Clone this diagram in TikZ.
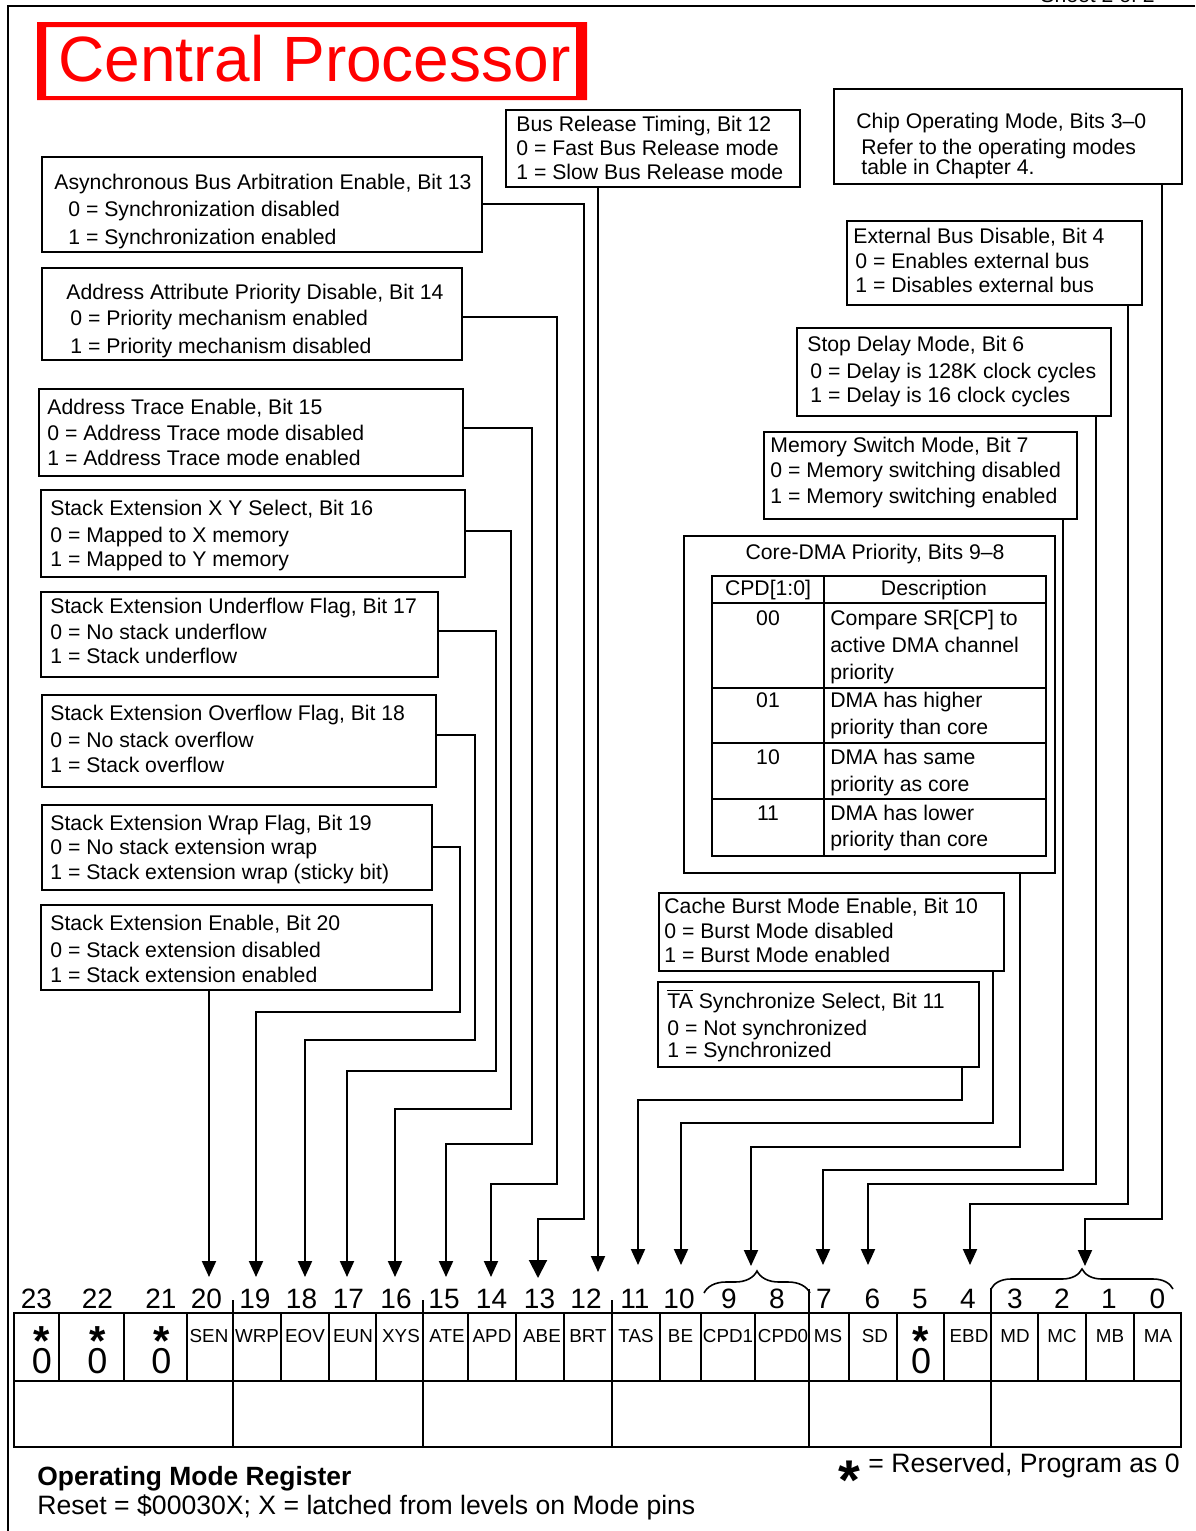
\documentclass[tikz,border=0pt]{standalone}
\usepackage{fontspec}
\setmainfont{Liberation Sans}
\usetikzlibrary{arrows.meta,fit,decorations.pathreplacing}
\newcommand\resbit{{\fontsize{18}{18}\selectfont\makebox[0pt][l]{\makebox[\fontcharwd\font`0][c]{\raisebox{9pt}[0pt][0pt]{\fontsize{21}{21}\bfseries\selectfont *}}}0}}
\begin{document}
\begin{tikzpicture}[x=0.5pt,y=-0.5pt,
  box/.style={draw,line width=1pt,inner sep=0pt,rectangle},
  txt/.style={inner sep=0pt,anchor=base west,font=\fontsize{10.6}{12.7}\selectfont},
  ctxt/.style={inner sep=0pt,anchor=base,font=\fontsize{10.6}{12.7}\selectfont},
  conn/.style={line width=1pt,-{Triangle[width=7pt,length=8pt]}},
  bigconn/.style={line width=1pt,-{Triangle[width=9pt,length=9pt]}},
  reg/.style={line width=1.1pt},
  bitlbl/.style={inner sep=0pt,anchor=base,font=\fontsize{14}{16}\selectfont},
  fld/.style={inner sep=0pt,anchor=base,font=\fontsize{9.4}{11}\selectfont},
  resv/.style={inner sep=0pt,anchor=base},
  brc/.style={line width=0.8pt,decorate},
]
\useasboundingbox (0,0) rectangle (1195,1531);

% frame and sheet note
\draw[line width=1pt] (8,1531) -- (8,6) -- (1195,6);
\node[txt] (sheet) at (1040,3) {Sheet 2 of 2};

% title
\fill[red,even odd rule] (37,22) rectangle (587,100) (46,27) rectangle (576,96);
\node[inner sep=0pt,anchor=base west,text=red,font=\fontsize{32}{38}\selectfont] (title) at (58,81) {Central Processor};

% ---------- boxes ----------
\node[box,fit={(506,110) (800,187)}] (brt) {};
\node[txt] (brt1) at (516,131) {Bus Release Timing, Bit 12};
\node[txt] (brt2) at (516,155) {0 = Fast Bus Release mode};
\node[txt] (brt3) at (516,179) {1 = Slow Bus Release mode};

\node[box,fit={(834,89) (1182,184)}] (cm) {};
\node[txt] (cm1) at (856,128) {Chip Operating Mode, Bits 3–0};
\node[txt] (cm2) at (861,154) {Refer to the operating modes};
\node[txt] (cm3) at (861,174) {table in Chapter 4.};

\node[box,fit={(42,157) (482,252)}] (aba) {};
\node[txt] (aba1) at (54,189) {Asynchronous Bus Arbitration Enable, Bit 13};
\node[txt] (aba2) at (68,216) {0 = Synchronization disabled};
\node[txt] (aba3) at (68,244) {1 = Synchronization enabled};

\node[box,fit={(42,268) (462,360)}] (apd) {};
\node[txt] (apd1) at (66,299) {Address Attribute Priority Disable, Bit 14};
\node[txt] (apd2) at (70,325) {0 = Priority mechanism enabled};
\node[txt] (apd3) at (70,353) {1 = Priority mechanism disabled};

\node[box,fit={(39,389) (463,476)}] (ate) {};
\node[txt] (ate1) at (47,414) {Address Trace Enable, Bit 15};
\node[txt] (ate2) at (47,440) {0 = Address Trace mode disabled};
\node[txt] (ate3) at (47,465) {1 = Address Trace mode enabled};

\node[box,fit={(41,490) (465,577)}] (xys) {};
\node[txt] (xys1) at (50,515) {Stack Extension X Y Select, Bit 16};
\node[txt] (xys2) at (50,542) {0 = Mapped to X memory};
\node[txt] (xys3) at (50,566) {1 = Mapped to Y memory};

\node[box,fit={(41,592) (438,677)}] (eun) {};
\node[txt] (eun1) at (50,613) {Stack Extension Underflow Flag, Bit 17};
\node[txt] (eun2) at (50,639) {0 = No stack underflow};
\node[txt] (eun3) at (50,663) {1 = Stack underflow};

\node[box,fit={(42,695) (436,787)}] (eov) {};
\node[txt] (eov1) at (50,720) {Stack Extension Overflow Flag, Bit 18};
\node[txt] (eov2) at (50,747) {0 = No stack overflow};
\node[txt] (eov3) at (50,772) {1 = Stack overflow};

\node[box,fit={(42,805) (432,890)}] (wrp) {};
\node[txt] (wrp1) at (50,830) {Stack Extension Wrap Flag, Bit 19};
\node[txt] (wrp2) at (50,854) {0 = No stack extension wrap};
\node[txt] (wrp3) at (50,879) {1 = Stack extension wrap (sticky bit)};

\node[box,fit={(41,905) (432,990)}] (sen) {};
\node[txt] (sen1) at (50,930) {Stack Extension Enable, Bit 20};
\node[txt] (sen2) at (50,957) {0 = Stack extension disabled};
\node[txt] (sen3) at (50,982) {1 = Stack extension enabled};

\node[box,fit={(847,221) (1142,305)}] (ebd) {};
\node[txt] (ebd1) at (853,243) {External Bus Disable, Bit 4};
\node[txt] (ebd2) at (855,268) {0 = Enables external bus};
\node[txt] (ebd3) at (855,292) {1 = Disables external bus};

\node[box,fit={(797,328) (1111,416)}] (sd) {};
\node[txt] (sd1) at (807,351) {Stop Delay Mode, Bit 6};
\node[txt] (sd2) at (810,378) {0 = Delay is 128K clock cycles};
\node[txt] (sd3) at (810,402) {1 = Delay is 16 clock cycles};

\node[box,fit={(764,432) (1077,519)}] (ms) {};
\node[txt] (ms1) at (770,452) {Memory Switch Mode, Bit 7};
\node[txt] (ms2) at (770,477) {0 = Memory switching disabled};
\node[txt] (ms3) at (770,503) {1 = Memory switching enabled};

% Core-DMA priority
\node[box,fit={(684,536) (1055,873)}] (cpd) {};
\node[ctxt] (cpdt) at (875,559) {Core-DMA Priority, Bits 9–8};
\node[box,fit={(712,576) (1046,856)}] (tbl) {};
\draw[line width=1pt] (824,576) -- (824,856);
\draw[line width=1pt] (712,603) -- (1046,603) (712,688) -- (1046,688)
  (712,743) -- (1046,743) (712,799) -- (1046,799);
\node[ctxt] (th1) at (768,595) {CPD[1:0]};
\node[ctxt] (th2) at (934,595) {Description};
\node[ctxt] (r0) at (768,625) {00};
\node[txt] (r0a) at (830,625) {Compare SR[CP] to};
\node[txt] (r0b) at (830,652) {active DMA channel};
\node[txt] (r0c) at (830,679) {priority};
\node[ctxt] (r1) at (768,707) {01};
\node[txt] (r1a) at (830,707) {DMA has higher};
\node[txt] (r1b) at (830,734) {priority than core};
\node[ctxt] (r2) at (768,764) {10};
\node[txt] (r2a) at (830,764) {DMA has same};
\node[txt] (r2b) at (830,791) {priority as core};
\node[ctxt] (r3) at (768,820) {11};
\node[txt] (r3a) at (830,820) {DMA has lower};
\node[txt] (r3b) at (830,846) {priority than core};

\node[box,fit={(659,893) (1004,971)}] (be) {};
\node[txt] (be1) at (664,913) {Cache Burst Mode Enable, Bit 10};
\node[txt] (be2) at (664,938) {0 = Burst Mode disabled};
\node[txt] (be3) at (664,962) {1 = Burst Mode enabled};

\node[box,fit={(658,982) (979,1067)}] (tas) {};
\node[txt] (tas1) at (667,1008) {$\overline{\hbox{TA}}$ Synchronize Select, Bit 11};
\node[txt] (tas2) at (667,1035) {0 = Not synchronized};
\node[txt] (tas3) at (667,1057) {1 = Synchronized};

% ---------- arrow targets ----------
\coordinate (a20) at (209,1277);
\coordinate (a19) at (256,1277);
\coordinate (a18) at (305,1277);
\coordinate (a17) at (347,1277);
\coordinate (a16) at (395,1277);
\coordinate (a15) at (446,1277);
\coordinate (a14) at (491,1277);
\coordinate (a13) at (538,1278);
\coordinate (a12) at (598,1272);
\coordinate (a11) at (638,1265);
\coordinate (a10) at (681,1265);
\coordinate (a98) at (751,1266);
\coordinate (a7) at (823,1265);
\coordinate (a6) at (868,1265);
\coordinate (a4) at (970,1265);
\coordinate (a30) at (1085,1266);

% ---------- connectors ----------
\draw[conn] (sen.south -| a20) -- (a20);
\draw[conn] (wrp.east |- 0,847) -| (460,1012) -| (a19);
\draw[conn] (eov.east |- 0,735) -| (475,1040) -| (a18);
\draw[conn] (eun.east |- 0,631) -| (496,1071) -| (a17);
\draw[conn] (xys.east |- 0,531) -| (511,1109) -| (a16);
\draw[conn] (ate.east |- 0,428) -| (532,1144) -| (a15);
\draw[conn] (apd.east |- 0,317) -| (557,1184) -| (a14);
\draw[bigconn] (aba.east |- 0,204) -| (584,1219) -| (a13);
\draw[conn] (brt.south -| a12) -- (a12);
\draw[conn] (tas.south -| 962,0) |- (a11 |- 0,1100) -- (a11);
\draw[conn] (be.south -| 993,0) |- (a10 |- 0,1123) -- (a10);
\draw[conn] (cpd.south -| 1020,0) |- (a98 |- 0,1147) -- (a98);
\draw[conn] (ms.south -| 1063,0) |- (a7 |- 0,1170) -- (a7);
\draw[conn] (sd.south -| 1096,0) |- (a6 |- 0,1184) -- (a6);
\draw[conn] (ebd.south -| 1128,0) |- (a4 |- 0,1204) -- (a4);
\draw[conn] (cm.south -| 1162,0) |- (a30 |- 0,1219) -- (a30);

% braces
\draw[brc,decoration={brace,amplitude=11pt}] (704,1293) -- (810,1293);
\draw[brc,decoration={brace,amplitude=10pt}] (991,1289) -- (1173,1289);

% ---------- register ----------
\draw[reg] (14,1313) rectangle (1181,1447);
\draw[reg] (14,1381) -- (1181,1381);
\foreach \xx in {59,124,187,281,329,376,468,516,564,660,701,755,849,897,944,1038,1086,1134}
  \draw[reg] (\xx,1313) -- (\xx,1381);
\draw[reg] (233,1300) -- (233,1447);
\draw[reg] (423,1300) -- (423,1447);
\draw[reg] (612,1300) -- (612,1447);
\draw[reg] (809,1289) -- (809,1447);
\draw[reg] (991,1288) -- (991,1447);

% bit numbers
\node[bitlbl] (n23) at (36.5,1308) {23};
\node[bitlbl] (n22) at (97.5,1308) {22};
\node[bitlbl] (n21) at (161,1308) {21};
\node[bitlbl] (n20) at (206.5,1308) {20};
\node[bitlbl] (n19) at (255,1308) {19};
\node[bitlbl] (n18) at (301.5,1308) {18};
\node[bitlbl] (n17) at (348.5,1308) {17};
\node[bitlbl] (n16) at (396,1308) {16};
\node[bitlbl] (n15) at (444,1308) {15};
\node[bitlbl] (n14) at (491.5,1308) {14};
\node[bitlbl] (n13) at (539.5,1308) {13};
\node[bitlbl] (n12) at (586,1308) {12};
\node[bitlbl] (n11) at (635,1308) {11};
\node[bitlbl] (n10) at (679,1308) {10};
\node[bitlbl] (n9) at (729,1308) {9};
\node[bitlbl] (n8) at (777,1308) {8};
\node[bitlbl] (n7) at (824,1308) {7};
\node[bitlbl] (n6) at (872.5,1308) {6};
\node[bitlbl] (n5) at (920,1308) {5};
\node[bitlbl] (n4) at (968,1308) {4};
\node[bitlbl] (n3) at (1015,1308) {3};
\node[bitlbl] (n2) at (1062,1308) {2};
\node[bitlbl] (n1) at (1109,1308) {1};
\node[bitlbl] (n0) at (1157.5,1308) {0};

% field names
\node[fld] (fSEN) at (209,1342) {SEN};
\node[fld] (fWRP) at (257,1342) {WRP};
\node[fld] (fEOV) at (305,1342) {EOV};
\node[fld] (fEUN) at (353,1342) {EUN};
\node[fld] (fXYS) at (401,1342) {XYS};
\node[fld] (fATE) at (447,1342) {ATE};
\node[fld] (fAPD) at (492,1342) {APD};
\node[fld] (fABE) at (542,1342) {ABE};
\node[fld] (fBRT) at (588,1342) {BRT};
\node[fld] (fTAS) at (636,1342) {TAS};
\node[fld] (fBE) at (680.5,1342) {BE};
\node[fld] (fCPDa) at (728,1342) {CPD1};
\node[fld] (fCPDb) at (783,1342) {CPD0};
\node[fld] (fMS) at (828,1342) {MS};
\node[fld] (fSD) at (875,1342) {SD};
\node[fld] (fEBD) at (969,1342) {EBD};
\node[fld] (fMD) at (1015,1342) {MD};
\node[fld] (fMC) at (1062,1342) {MC};
\node[fld] (fMB) at (1110,1342) {MB};
\node[fld] (fMA) at (1158,1342) {MA};

% reserved bits (star above 0)
\node[resv] (r23) at (42,1373) {\resbit};
\node[resv] (r22) at (97.5,1373) {\resbit};
\node[resv] (r21) at (161.5,1373) {\resbit};
\node[resv] (r5) at (921,1373) {\resbit};

% footer
\node[inner sep=0pt,anchor=base west,font=\fontsize{13.2}{15}\bfseries\selectfont] (omr) at (37,1485) {Operating Mode Register};
\node[inner sep=0pt,anchor=base west,font=\fontsize{13.3}{15}\selectfont] (rst) at (37,1514) {Reset = \$00030X; X = latched from levels on Mode pins};
\node[inner sep=0pt,anchor=base,font=\fontsize{28}{30}\bfseries\selectfont] (lstar) at (849.5,1499) {*};
\node[inner sep=0pt,anchor=base west,font=\fontsize{13.3}{15}\selectfont] (legend) at (868,1472) {= Reserved, Program as 0};
\end{tikzpicture}
\end{document}
